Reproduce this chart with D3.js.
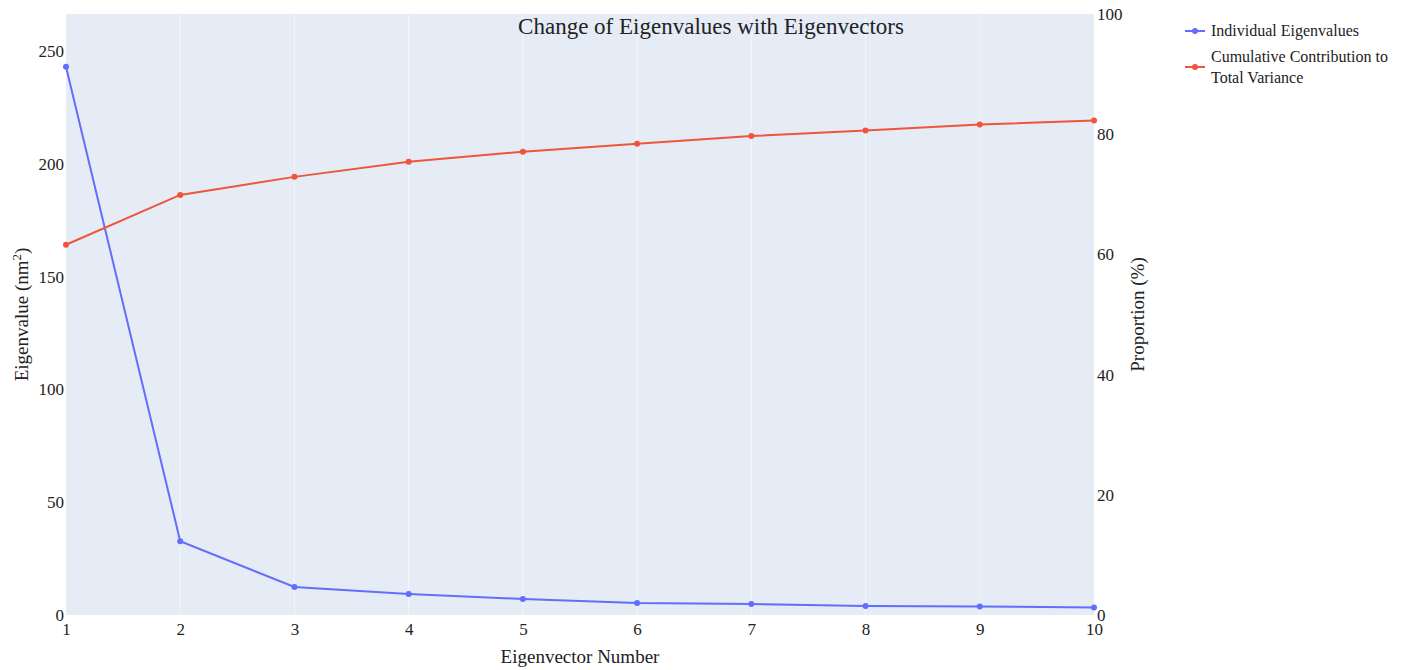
<!DOCTYPE html>
<html>
<head>
<meta charset="utf-8">
<script src="https://cdn.jsdelivr.net/npm/d3@7"></script>
<style>
  body { margin: 0; background: #fff; }
  svg text { font-family: "Liberation Serif", "Times New Roman", serif; fill: #222; }
</style>
</head>
<body>
<script>
// data
const vectorNumbers = [1, 2, 3, 4, 5, 6, 7, 8, 9, 10];
const eigenvalues = [243, 32.7, 12.4, 9.3, 7.1, 5.3, 4.9, 4.0, 3.8, 3.3];
const cumulative = [61.6, 69.9, 72.9, 75.4, 77.1, 78.4, 79.7, 80.6, 81.6, 82.3];
const leftTicks = [0, 50, 100, 150, 200, 250];
const rightTicks = [0, 20, 40, 60, 80, 100];
const seriesNames = ["Individual Eigenvalues", ["Cumulative Contribution to", "Total Variance"]];

document.addEventListener("DOMContentLoaded", function() {

    const svg = d3.select("body").append("svg")
        .attr("width", 1417)
        .attr("height", 670);

    const margin = { top: 14, right: 323, bottom: 55, left: 66 },
        width = 1417 - margin.left - margin.right,
        height = 670 - margin.top - margin.bottom;

    const g = svg.append("g").attr("transform", `translate(${margin.left},${margin.top})`);

    const x = d3.scaleLinear().domain([1, 10]).range([0, width]);
    const yLeft = d3.scaleLinear().domain([0, 266.4]).range([height, 0]);
    const yRight = d3.scaleLinear().domain([0, 100]).range([height, 0]);

    g.append("rect")
        .attr("width", width)
        .attr("height", height)
        .attr("fill", "#E5ECF6");

    // vertical grid, faint like the reference
    g.append("g")
        .selectAll("line")
        .data(vectorNumbers.slice(1, -1))
        .enter().append("line")
        .attr("x1", d => x(d)).attr("x2", d => x(d))
        .attr("y1", 0).attr("y2", height)
        .attr("stroke", "#fff")
        .attr("stroke-opacity", 0.55)
        .attr("stroke-width", 1);

    // axes
    const xAxis = g.append("g")
        .attr("transform", `translate(0,${height})`)
        .call(d3.axisBottom(x).tickValues(vectorNumbers).tickFormat(d3.format("d")).tickSize(0).tickPadding(8));
    const yAxisL = g.append("g")
        .call(d3.axisLeft(yLeft).tickValues(leftTicks).tickSize(0).tickPadding(2));
    const yAxisR = g.append("g")
        .attr("transform", `translate(${width},0)`)
        .call(d3.axisRight(yRight).tickValues(rightTicks).tickSize(0).tickPadding(3));

    [xAxis, yAxisL, yAxisR].forEach(a => {
        a.select(".domain").remove();
        a.selectAll("text").style("font-size", "17px").attr("fill", "#222");
    });

    // lines
    const blueLine = d3.line().x((d, i) => x(vectorNumbers[i])).y(d => yLeft(d));
    const redLine = d3.line().x((d, i) => x(vectorNumbers[i])).y(d => yRight(d));

    g.append("path")
        .datum(eigenvalues)
        .attr("fill", "none")
        .attr("stroke", "#636EFA")
        .attr("stroke-width", 2)
        .attr("d", blueLine);

    g.append("path")
        .datum(cumulative)
        .attr("fill", "none")
        .attr("stroke", "#EF553B")
        .attr("stroke-width", 2)
        .attr("d", redLine);

    g.selectAll(".dotB")
        .data(eigenvalues)
        .enter().append("circle")
        .attr("cx", (d, i) => x(vectorNumbers[i]))
        .attr("cy", d => yLeft(d))
        .attr("r", 3)
        .attr("fill", "#636EFA");

    g.selectAll(".dotR")
        .data(cumulative)
        .enter().append("circle")
        .attr("cx", (d, i) => x(vectorNumbers[i]))
        .attr("cy", d => yRight(d))
        .attr("r", 3)
        .attr("fill", "#EF553B");

    // title
    svg.append("text")
        .attr("x", 711)
        .attr("y", 34)
        .attr("text-anchor", "middle")
        .style("font-size", "23px")
        .text("Change of Eigenvalues with Eigenvectors");

    // axis titles
    svg.append("text")
        .attr("x", margin.left + width / 2)
        .attr("y", 663)
        .attr("text-anchor", "middle")
        .style("font-size", "19px")
        .text("Eigenvector Number");

    const lt = svg.append("text")
        .attr("transform", `translate(28,${margin.top + height / 2}) rotate(-90)`)
        .attr("text-anchor", "middle")
        .style("font-size", "19px");
    lt.append("tspan").text("Eigenvalue (nm");
    lt.append("tspan").attr("dy", -7).style("font-size", "13px").text("2");
    lt.append("tspan").attr("dy", 7).text(")");

    svg.append("text")
        .attr("transform", `translate(1144,${margin.top + height / 2}) rotate(-90)`)
        .attr("text-anchor", "middle")
        .style("font-size", "19px")
        .text("Proportion (%)");

    // legend
    const legend = svg.append("g").attr("transform", "translate(1185,0)");
    const colors = ["#636EFA", "#EF553B"];
    const rows = [31, 67];
    seriesNames.forEach((name, i) => {
        const row = legend.append("g").attr("transform", `translate(0,${rows[i]})`);
        row.append("line").attr("x1", 0).attr("x2", 20).attr("y1", 0).attr("y2", 0)
            .attr("stroke", colors[i]).attr("stroke-width", 2);
        row.append("circle").attr("cx", 10).attr("cy", 0).attr("r", 3).attr("fill", colors[i]);
        const t = row.append("text").attr("x", 26).style("font-size", "16px");
        const lines = Array.isArray(name) ? name : [name];
        lines.forEach((ln, j) => {
            t.append("tspan")
                .attr("x", 26)
                .attr("y", (j - (lines.length - 1) / 2) * 21 + 5)
                .text(ln);
        });
    });
});
</script>
</body>
</html>
